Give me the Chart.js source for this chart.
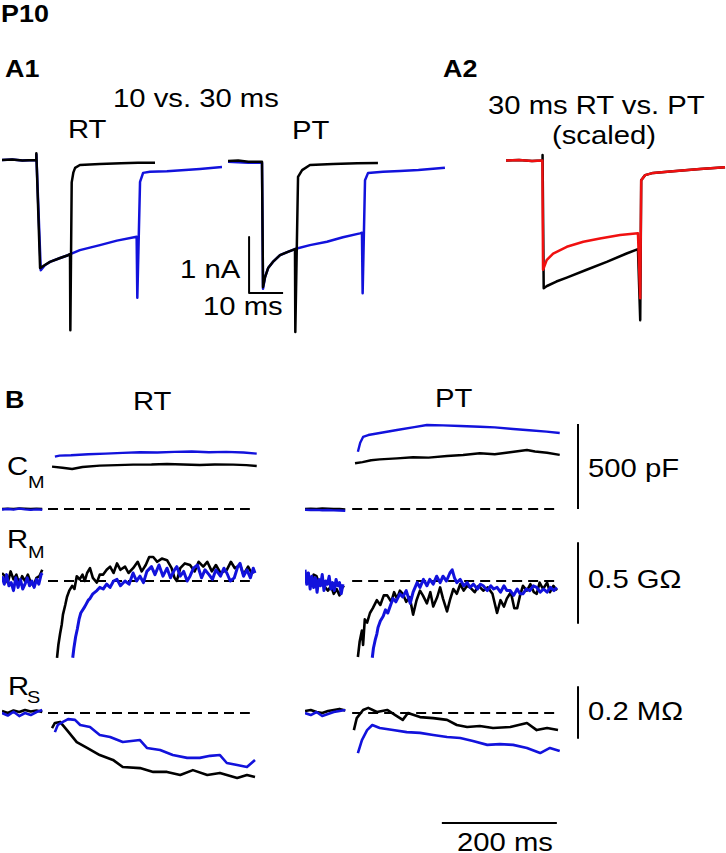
<!DOCTYPE html>
<html>
<head>
<meta charset="utf-8">
<script src="https://cdn.jsdelivr.net/npm/chart.js@4.4.0/dist/chart.umd.min.js"></script>
<style>
body { margin: 0; background: #fff; }
#fig { position: relative; width: 726px; height: 853px; overflow: hidden; font-family: "Liberation Sans", Arial, sans-serif; }
#fig canvas { position: absolute; }
.t { position: absolute; font-size: 25px; line-height: 25px; white-space: nowrap; transform: scaleX(1.17); transform-origin: 0 0; color: #000; }
.b { font-weight: bold; font-size: 24px; line-height: 24px; transform: scaleX(1.12); }
.s { font-size: 17px; line-height: 17px; }
</style>
</head>
<body>
<div id="fig">
  <div class="t b" style="left:1px;top:2px">P10</div>
  <div class="t b" style="left:5px;top:57px">A1</div>
  <div class="t b" style="left:443px;top:57px">A2</div>
  <div class="t b" style="left:5px;top:388px">B</div>

  <div class="t" style="left:113px;top:86px">10 vs. 30 ms</div>
  <div class="t" style="left:68px;top:117px">RT</div>
  <div class="t" style="left:292px;top:118px">PT</div>
  <div class="t" style="left:488px;top:93px">30 ms RT vs. PT</div>
  <div class="t" style="left:552px;top:123px">(scaled)</div>
  <div class="t" style="left:180px;top:257px">1 nA</div>
  <div class="t" style="left:203px;top:294px">10 ms</div>

  <div class="t" style="left:133px;top:389px">RT</div>
  <div class="t" style="left:435px;top:386px">PT</div>
  <div class="t" style="left:7px;top:454px">C</div>
  <div class="t s" style="left:28px;top:474px">M</div>
  <div class="t" style="left:7px;top:527px">R</div>
  <div class="t s" style="left:28px;top:544px">M</div>
  <div class="t" style="left:8px;top:674px">R</div>
  <div class="t s" style="left:27px;top:689px">S</div>
  <div class="t" style="left:588px;top:456px">500 pF</div>
  <div class="t" style="left:588px;top:567px">0.5 GΩ</div>
  <div class="t" style="left:588px;top:699px">0.2 MΩ</div>
  <div class="t" style="left:457px;top:830px">200 ms</div>
</div>
<script>
const BLUE = "#1212dc";
const RED = "#f01010";
const BLACK = "#000000";

// =============================
// A1 / A2 : currents (time ms, current nA)
// =============================
const a1RtBlackT = [0, 3, 6, 10, 10.1, 11.2, 12.6, 14.1, 17.1, 19.4, 20.0, 20.1, 20.5, 21.0, 21.5, 22.9, 28.8, 35, 40, 45];
const a1RtBlackI = [0, 0.01, -0.01, 0, 0.12, -1.93, -1.875, -1.82, -1.75, -1.70, -1.68, -3.04, -0.40, -0.22, -0.14, -0.09, -0.07, -0.06, -0.05, -0.05];
const a1RtBlueT = [0, 3, 6, 10, 10.1, 11.4, 12.6, 14.1, 17.1, 19.4, 22.9, 28.8, 33.8, 39.6, 39.8, 40.6, 41.5, 43.5, 48.5, 58.2, 64.7];
const a1RtBlueI = [0, 0.01, -0.01, 0, 0.1, -1.97, -1.88, -1.82, -1.75, -1.70, -1.61, -1.52, -1.44, -1.37, -2.46, -0.39, -0.23, -0.21, -0.20, -0.16, -0.125];

const a1PtBlackT = [0, 3, 6, 10.0, 10.3, 10.9, 11.8, 13.2, 15.3, 17.6, 19.7, 19.8, 20.6, 21.8, 24.1, 30.9, 38, 44.1];
const a1PtBlackI = [-0.02, -0.01, -0.03, -0.03, -2.27, -2.09, -1.93, -1.82, -1.70, -1.64, -1.59, -3.07, -0.30, -0.18, -0.09, -0.07, -0.06, -0.055];
const a1PtBlueT = [0, 3, 6, 10.0, 10.3, 10.9, 11.8, 13.2, 15.3, 17.6, 19.7, 24.1, 29.1, 33.8, 38.8, 39.4, 39.6, 40.3, 41.2, 45.6, 50.6, 56, 63.8];
const a1PtBlueI = [-0.03, -0.04, -0.05, -0.05, -2.30, -2.09, -1.93, -1.82, -1.70, -1.64, -1.59, -1.52, -1.46, -1.38, -1.31, -1.30, -2.38, -0.36, -0.23, -0.21, -0.196, -0.18, -0.14];

// scale bar 1 nA / 10 ms
const a1BarT = [6.2, 6.2, 16.2];
const a1BarI = [-1.375, -2.375, -2.375];

const a2RedT = [0, 4, 8, 11.2, 11.4, 12.5, 14.5, 18.7, 23.8, 28.9, 35.1, 40.6, 41.3, 41.6, 42.8, 45.3, 51.4, 59.7, 67.4];
const a2RedI = [-0.01, 0.0, -0.02, -0.01, -1.96, -1.79, -1.67, -1.55, -1.46, -1.40, -1.34, -1.31, -2.47, -0.36, -0.27, -0.23, -0.20, -0.16, -0.13];
const a2BlackT = [0, 4, 8, 11.2, 11.25, 11.6, 12.6, 15.5, 18.7, 24.8, 31.0, 37.1, 40.6, 41.3, 41.6, 42.8, 45.3, 51.4, 59.7, 67.4];
const a2BlackI = [-0.01, 0.0, -0.02, -0.01, 0.09, -2.29, -2.25, -2.17, -2.10, -1.96, -1.82, -1.67, -1.59, -2.86, -0.36, -0.27, -0.23, -0.20, -0.16, -0.13];

// =============================
// B : Cm (pF), Rm (GOhm change), Rs (MOhm change), time ms
// =============================
const baseT = [0, 10, 20, 30, 40, 50, 60, 70];
const cmRtBlueBase = [-3, 0, -4, 2, -2, -5, -2, -4];
const cmRtBlackBase = [0, 2, 1, 3, 2, 0, 2, 1];
const cmPtBlueBase = [-4, -6, -5, -7, -6, -8, -9, -10];
const cmPtBlackBase = [0, 2, 0, 3, 2, 0, 1, -2];

const cmRtBlueT = [92, 100, 120, 150, 180, 210, 240, 270, 300, 330, 360, 390, 420, 443];
const cmRtBlueV = [308, 314, 316, 322, 326, 330, 334, 332, 336, 338, 334, 336, 332, 326];
const cmRtBlackT = [87, 105, 122, 140, 170, 200, 228, 260, 287, 315, 344, 370, 402, 425, 443];
const cmRtBlackV = [249, 243, 235, 247, 255, 258, 261, 262, 265, 262, 259, 262, 261, 258, 253];

const cmPtBlueT = [92, 96, 101, 110, 130, 160, 190, 212, 240, 270, 304, 330, 362, 390, 420, 443];
const cmPtBlueV = [337, 390, 424, 435, 447, 465, 482, 494, 492, 488, 484, 480, 471, 463, 455, 447];
const cmPtBlackT = [87, 100, 115, 130, 160, 188, 215, 247, 275, 304, 330, 360, 386, 400, 421, 443];
const cmPtBlackV = [269, 276, 287, 292, 298, 304, 302, 312, 318, 328, 322, 335, 347, 338, 331, 318];

const rmRtBlueBaseT = [0, 4, 8, 12, 16, 20, 24, 28, 32, 36, 40, 44, 48, 52, 56, 60, 64, 68, 70];
const rmRtBlueBaseV = [0.03, -0.02, 0.04, -0.03, -0.01, -0.06, 0.02, -0.04, 0.01, -0.05, -0.02, 0.02, -0.03, 0.0, -0.04, 0.01, -0.02, 0.04, 0.05];
const rmRtBlackBaseT = [0, 5, 10, 15, 20, 25, 30, 35, 40, 45, 50, 55, 60, 65, 70];
const rmRtBlackBaseV = [0.05, 0.03, -0.01, 0.06, 0.01, 0.04, -0.02, 0.03, 0.0, 0.04, -0.01, -0.03, 0.02, 0.03, 0.07];
const rmPtBlueBaseT = [0, 3, 6, 9, 12, 15, 18, 21, 24, 27, 30, 33, 36, 39, 42, 45, 48, 51, 54, 57, 60, 63, 66];
const rmPtBlueBaseV = [0.07, -0.02, 0.05, -0.05, 0.03, -0.04, 0.02, -0.07, 0.01, -0.03, 0.04, -0.06, 0.0, -0.02, 0.03, -0.05, -0.01, -0.06, 0.01, -0.03, -0.01, -0.08, -0.02];
const rmPtBlackBaseT = [0, 5, 10, 15, 20, 25, 30, 35, 40, 45, 50, 55, 60, 65, 68];
const rmPtBlackBaseV = [0.02, 0.05, -0.01, 0.04, 0.03, -0.02, 0.0, -0.04, -0.06, -0.03, -0.08, -0.05, -0.09, -0.04, -0.03];

const rmRtBlackT = [95.7, 98, 101, 104, 106, 110, 113, 117, 122, 126, 130, 135, 140, 144, 148, 153, 158, 165, 170, 176, 182, 188, 194, 200, 206, 214, 220, 228, 236, 243, 250, 256, 263, 270, 278, 287, 295, 300, 304, 310, 318, 327, 335, 342, 350, 357, 365, 372, 380, 391, 398, 405, 414, 420, 428, 434, 440];
const rmRtBlackV = [-0.48, -0.40, -0.33, -0.27, -0.21, -0.15, -0.10, -0.06, -0.03, -0.05, 0.03, 0.01, 0.04, 0.0, 0.05, 0.08, 0.02, -0.01, 0.04, 0.04, 0.07, 0.09, 0.05, 0.11, 0.07, 0.09, 0.05, 0.08, 0.12, 0.06, 0.10, 0.15, 0.15, 0.12, 0.14, 0.13, 0.08, 0.02, 0.0, 0.08, 0.11, 0.10, 0.06, 0.12, 0.09, 0.12, 0.06, 0.10, 0.05, 0.07, 0.12, 0.08, 0.10, 0.04, 0.09, 0.05, 0.06];
const rmRtBlueT = [123, 125, 128, 131, 134, 137, 144, 150, 153, 158, 165, 170, 176, 182, 188, 194, 200, 206, 214, 221, 228, 234, 240, 246, 252, 260, 266, 273, 280, 287, 293, 300, 304, 310, 316, 322, 327, 333, 340, 347, 353, 360, 366, 372, 380, 386, 391, 397, 404, 410, 414, 420, 426, 432, 437, 440];
const rmRtBlueV = [-0.48, -0.42, -0.35, -0.30, -0.24, -0.20, -0.16, -0.12, -0.11, -0.08, -0.06, -0.04, -0.05, -0.02, -0.04, 0.0, 0.01, -0.03, 0.0, -0.02, 0.05, 0.0, 0.03, -0.01, 0.06, 0.09, 0.04, 0.10, 0.03, 0.08, 0.02, 0.07, 0.09, 0.03, 0.06, 0.0, 0.03, 0.08, 0.10, 0.02, 0.07, 0.04, 0.01, 0.07, 0.03, 0.08, 0.05, 0.0, 0.02, 0.09, 0.11, 0.03, 0.07, 0.02, 0.08, 0.05];

const rmPtBlackT = [92, 95, 99, 101, 104, 108, 113, 118, 125, 131, 137, 143, 150, 155, 160, 165, 170, 176, 182, 188, 194, 200, 205, 212, 218, 223, 230, 235, 240, 247, 252, 258, 264, 270, 276, 282, 287, 295, 302, 310, 318, 326, 334, 340, 346, 351, 358, 364, 369, 374, 379, 386, 392, 398, 403, 408, 414, 421, 426, 432, 438];
const rmPtBlackV = [-0.475, -0.38, -0.31, -0.40, -0.24, -0.26, -0.20, -0.17, -0.12, -0.15, -0.09, -0.09, -0.13, -0.07, -0.11, -0.06, -0.08, -0.13, -0.10, -0.21, -0.12, -0.06, -0.09, -0.14, -0.07, -0.16, -0.10, -0.04, -0.11, -0.19, -0.12, -0.05, -0.08, -0.02, -0.06, -0.03, -0.04, -0.07, -0.03, -0.06, -0.04, -0.08, -0.20, -0.12, -0.16, -0.11, -0.07, -0.17, -0.17, -0.09, -0.03, -0.06, -0.02, -0.07, -0.08, -0.01, -0.05, -0.01, -0.07, -0.03, -0.06];
const rmPtBlueT = [117, 119, 122, 125, 127, 131, 136, 140, 144, 148, 153, 158, 165, 170, 176, 183, 188, 195, 200, 206, 212, 217, 223, 229, 235, 240, 246, 252, 256, 260, 264, 270, 276, 282, 287, 293, 300, 305, 310, 317, 323, 328, 334, 340, 346, 351, 357, 363, 369, 374, 379, 385, 391, 397, 403, 409, 415, 421, 427, 433, 438];
const rmPtBlueV = [-0.48, -0.42, -0.37, -0.33, -0.29, -0.25, -0.22, -0.18, -0.20, -0.16, -0.11, -0.13, -0.08, -0.10, -0.06, -0.14, -0.07, -0.01, -0.04, 0.01, -0.03, 0.01, -0.02, 0.03, -0.01, 0.03, 0.0, 0.05, 0.07, 0.02, -0.01, 0.01, -0.03, -0.01, -0.04, -0.02, -0.05, -0.02, -0.03, -0.06, -0.03, -0.05, -0.04, -0.07, -0.03, -0.06, -0.06, -0.09, -0.05, -0.08, -0.08, -0.05, -0.06, -0.03, -0.04, -0.07, -0.05, -0.07, -0.04, -0.06, -0.04];

const rsRtBlueBaseV = [0.0, -0.01, 0.005, -0.012, 0.0, -0.008, 0.004, 0.012];
const rsRtBlackBaseV = [0.008, 0.0, 0.01, 0.004, 0.012, 0.006, 0.01, 0.004];
const rsPtBlueBaseV = [0.0, -0.008, 0.004, -0.012, -0.004, 0.004, 0.008, 0.012];
const rsPtBlackBaseV = [0.008, 0.012, 0.004, 0.0, 0.008, 0.012, 0.016, 0.01];

const rsRtBlueT = [92, 97, 106, 115, 127, 136, 153, 170, 188, 210, 240, 252, 275, 297, 322, 344, 362, 379, 391, 409, 426, 440];
const rsRtBlueV = [-0.075, -0.047, -0.035, -0.024, -0.027, -0.047, -0.055, -0.086, -0.094, -0.114, -0.106, -0.137, -0.145, -0.165, -0.176, -0.176, -0.168, -0.165, -0.196, -0.204, -0.212, -0.184];
const rsRtBlackT = [87, 92, 101, 113, 130, 148, 170, 193, 210, 240, 263, 287, 310, 332, 357, 379, 409, 426, 440];
const rsRtBlackV = [-0.059, -0.039, -0.035, -0.067, -0.114, -0.137, -0.165, -0.184, -0.212, -0.216, -0.231, -0.231, -0.243, -0.224, -0.243, -0.235, -0.255, -0.243, -0.251];
const rsPtBlackT = [85, 90, 101, 110, 125, 143, 157, 170, 179, 200, 223, 247, 264, 282, 304, 327, 357, 386, 403, 421, 440];
const rsPtBlackV = [-0.067, -0.02, 0.012, 0.02, 0.004, 0.012, -0.008, -0.027, 0.0, -0.016, -0.02, -0.027, -0.047, -0.055, -0.051, -0.059, -0.055, -0.039, -0.067, -0.059, -0.067];
const rsPtBlueT = [92, 99, 108, 117, 130, 153, 177, 200, 223, 247, 270, 292, 317, 339, 362, 386, 409, 426, 443];
const rsPtBlueV = [-0.157, -0.106, -0.067, -0.047, -0.059, -0.067, -0.075, -0.078, -0.086, -0.094, -0.098, -0.11, -0.125, -0.122, -0.125, -0.137, -0.157, -0.137, -0.149];

// dashed zero lines and scale bars
const rtDashT = [80, 431];
const ptDashT = [82, 435];
const zeroLine = [0, 0];
const barT = [474.8, 474.8];
const cmBar = [0, 500];
const rmBar = [0.2375, -0.2625];
const rsBar = [0.102, -0.098];
const timeBarT = [238, 438];
const timeBarV = [-0.431, -0.431];

// =============================
// HELPERS
// =============================
function pts(ts, vs) {
  return ts.map((t, i) => ({ x: t, y: vs[i] }));
}

function line(ts, vs, color, width, axis, dash) {
  return {
    data: pts(ts, vs),
    borderColor: color,
    borderWidth: width,
    yAxisID: axis,
    borderDash: dash || [],
    fill: false,
    pointRadius: 0
  };
}

// value range of a hidden axis so that value 0 sits at basePx (page pixels)
function axisRange(basePx, pxPerUnit, top, height) {
  let max = (basePx - top) / pxPerUnit;
  return { type: "linear", display: false, max: max, min: max - height / pxPerUnit };
}

function makeChart(left, top, width, height, pxPerMs, yScales, datasets) {
  let cv = document.createElement("canvas");
  cv.width = width;
  cv.height = height;
  cv.style.left = left + "px";
  cv.style.top = top + "px";
  cv.style.width = width + "px";
  cv.style.height = height + "px";
  document.getElementById("fig").appendChild(cv);

  let scales = { x: { type: "linear", display: false, min: 0, max: width / pxPerMs } };
  Object.assign(scales, yScales);

  return new Chart(cv, {
    type: "line",
    data: { datasets: datasets },
    options: {
      responsive: false,
      animation: false,
      devicePixelRatio: 1,
      layout: { padding: 0 },
      plugins: { legend: { display: false }, tooltip: { enabled: false } },
      elements: { line: { tension: 0, borderJoinStyle: "round" }, point: { radius: 0 } },
      scales: scales
    }
  });
}

// =============================
// PANEL A
// =============================
const aTop = 140, aH = 200;
const aY = { y: axisRange(160, 56, aTop, aH) };

makeChart(2, aTop, 222, aH, 3.4, aY, [
  line(a1RtBlackT, a1RtBlackI, BLACK, 2.5, "y"),
  line(a1RtBlueT, a1RtBlueI, BLUE, 2.5, "y")
]);

makeChart(228, aTop, 222, aH, 3.4, aY, [
  line(a1PtBlackT, a1PtBlackI, BLACK, 2.5, "y"),
  line(a1PtBlueT, a1PtBlueI, BLUE, 2.5, "y"),
  line(a1BarT, a1BarI, BLACK, 2, "y")
]);

makeChart(506, aTop, 220, aH, 3.25, aY, [
  line(a2RedT, a2RedI, RED, 2.5, "y"),
  line(a2BlackT, a2BlackI, BLACK, 2.5, "y")
]);

// =============================
// PANEL B
// =============================
const bTop = 400, bH = 453;
const bY = {
  yC: axisRange(509, 0.17, bTop, bH),
  yM: axisRange(581, 160, bTop, bH),
  yS: axisRange(713, 255, bTop, bH)
};
const DASH = [10, 6];

makeChart(2, bTop, 270, bH, 0.575, bY, [
  line(baseT, cmRtBlueBase, BLUE, 2.4, "yC"),
  line(cmRtBlueT, cmRtBlueV, BLUE, 2.4, "yC"),
  line(rmRtBlueBaseT, rmRtBlueBaseV, BLUE, 3, "yM"),
  line(rmRtBlueT, rmRtBlueV, BLUE, 3, "yM"),
  line(baseT, rsRtBlueBaseV, BLUE, 2.6, "yS"),
  line(rsRtBlueT, rsRtBlueV, BLUE, 2.6, "yS"),
  line(baseT, cmRtBlackBase, BLACK, 2.4, "yC"),
  line(cmRtBlackT, cmRtBlackV, BLACK, 2.4, "yC"),
  line(rmRtBlackBaseT, rmRtBlackBaseV, BLACK, 2.6, "yM"),
  line(rmRtBlackT, rmRtBlackV, BLACK, 2.6, "yM"),
  line(baseT, rsRtBlackBaseV, BLACK, 2.6, "yS"),
  line(rsRtBlackT, rsRtBlackV, BLACK, 2.6, "yS"),
  line(rtDashT, zeroLine, BLACK, 2, "yC", DASH),
  line(rtDashT, zeroLine, BLACK, 2, "yM", DASH),
  line(rtDashT, zeroLine, BLACK, 2, "yS", DASH)
]);

makeChart(305, bTop, 421, bH, 0.575, bY, [
  line(baseT, cmPtBlueBase, BLUE, 2.4, "yC"),
  line(cmPtBlueT, cmPtBlueV, BLUE, 2.4, "yC"),
  line(rmPtBlueBaseT, rmPtBlueBaseV, BLUE, 3, "yM"),
  line(rmPtBlueT, rmPtBlueV, BLUE, 3, "yM"),
  line(baseT, rsPtBlueBaseV, BLUE, 2.6, "yS"),
  line(rsPtBlueT, rsPtBlueV, BLUE, 2.6, "yS"),
  line(baseT, cmPtBlackBase, BLACK, 2.4, "yC"),
  line(cmPtBlackT, cmPtBlackV, BLACK, 2.4, "yC"),
  line(rmPtBlackBaseT, rmPtBlackBaseV, BLACK, 2.6, "yM"),
  line(rmPtBlackT, rmPtBlackV, BLACK, 2.6, "yM"),
  line(baseT, rsPtBlackBaseV, BLACK, 2.6, "yS"),
  line(rsPtBlackT, rsPtBlackV, BLACK, 2.6, "yS"),
  line(ptDashT, zeroLine, BLACK, 2, "yC", DASH),
  line(ptDashT, zeroLine, BLACK, 2, "yM", DASH),
  line(ptDashT, zeroLine, BLACK, 2, "yS", DASH),
  line(barT, cmBar, BLACK, 2, "yC"),
  line(barT, rmBar, BLACK, 2, "yM"),
  line(barT, rsBar, BLACK, 2, "yS"),
  line(timeBarT, timeBarV, BLACK, 2, "yS")
]);
</script>
</body>
</html>
